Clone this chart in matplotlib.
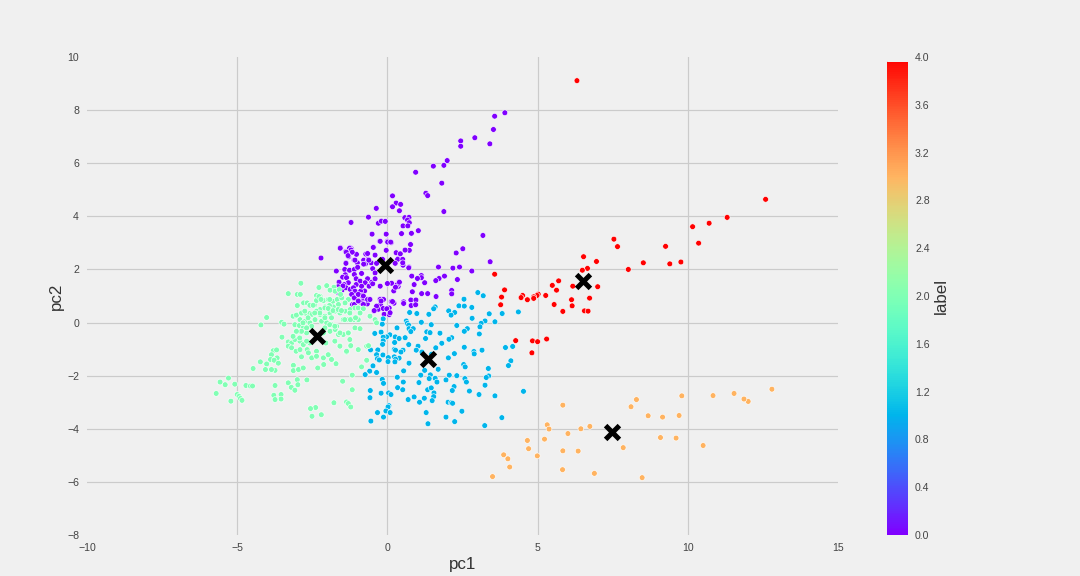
import matplotlib
matplotlib.use('Agg')
import matplotlib.pyplot as plt
import numpy as np
from matplotlib.patches import Rectangle

# pc1, pc2 per cluster
cluster0 = [(3.91,7.90),(3.57,7.77),(3.53,7.27),(3.41,6.73),(2.91,6.96),(2.44,6.84),(2.44,6.64),(1.99,6.10),(1.88,5.92),(1.53,5.89),
    (0.94,5.66),(1.81,5.25),(1.28,4.87),(1.34,4.78),(1.88,4.18),(0.17,4.77),(0.29,4.50),(0.44,4.45),(0.17,4.36),(0.40,4.21),
    (-0.37,4.30),(-0.63,3.97),(-1.21,3.77),(-0.30,3.74),(-0.20,3.82),(-0.07,3.81),(0.58,3.95),(0.72,3.96),(0.67,3.86),(0.73,3.76),
    (0.52,3.64),(0.68,3.64),(1.03,3.46),(0.80,3.36),(0.47,3.35),(-0.04,3.33),(-0.51,3.33),(3.18,3.28),(-0.26,3.06),(0,3.06),
    (0.13,3.01),(0.77,2.94),(-0.46,2.84),(-1.24,2.82),(-1.2,2.78),(-1.56,2.82),(-1.39,2.67),(-1.18,2.67),(-1.29,2.48),(-1.03,2.57),
    (-0.72,2.58),(-0.66,2.60),(-0.41,2.54),(-1.11,2.35),(-1.38,2.25),(-1.0,2.25),(-0.79,2.35),(-0.64,2.38),(-0.73,2.21),(-0.54,2.25),
    (-0.36,2.23),(0.58,2.72),(0.30,2.63),(0.41,2.57),(-0.04,2.72),(0.37,2.42),(0.24,2.26),(-0.16,2.38),(0.52,2.16),(0.72,2.09),
    (2.51,2.78),(2.29,2.62),(3.42,2.29),(1.70,2.09),(2.18,2.05),(2.40,2.09),(2.81,1.94),(1.90,1.75),(1.72,1.66),(1.61,1.58),
    (2.33,1.62),(1.13,1.77),(1.13,1.69),(0.81,1.75),(1.0,1.66),(1.24,1.50),(0.89,1.43),(0.39,1.53),(0.32,1.42),(0.14,1.48),
    (0,1.47),(0.36,1.36),(0.21,1.19),(0.83,1.16),(1.14,1.09),(1.34,1.09),(1.62,0.98),(2.14,1.21),(2.14,1.08),(0.54,0.78),
    (0.54,0.72),(0.78,0.85),(0.95,0.85),(0.13,0.79),(0.22,0.73),(0.79,0.64),(0.94,0.67),(-0.25,0.88),(-0.19,0.88),(-0.66,0.87),
    (-0.84,0.84),(-0.97,0.84),(-0.23,0.68),(-0.45,0.44),(-0.3,0.5),(-0.14,0.53),(0.06,0.55),(-0.11,0.31),(0.06,0.30),(-0.76,1.19),
    (-0.89,1.18),(-0.88,1.03),(-1.1,1.19),(-1.16,1.07),(-1.12,0.92),(-1.16,0.68),(-0.67,0.70),(-1.57,2.80),(-1.26,2.80),(-1.21,2.73),
    (-1.17,2.65),(-1.37,2.65),(-1.31,2.52),(-1.08,2.35),(-1.38,2.23),(-0.79,2.20),(-0.62,2.35),(-0.49,2.03),(-0.41,1.87),(-1.7,1.94),
    (-1.42,2.0),(-1.26,1.97),(-1.1,2.0),(-0.99,2.08),(-1.4,1.8),(-1.49,1.71),(-1.36,1.69),(-1.1,1.81),(-0.86,1.85),(-1.04,1.65),
    (-0.91,1.56),(-0.66,1.65),(-0.52,1.52),(-0.74,1.5),(-0.61,1.37),(-0.86,1.37),(-1.04,1.43),(-1.3,1.5),(-1.44,1.43),(-1.58,1.4),
    (-1.51,1.22),(-1.63,1.12),(-1.38,1.31),(-1.24,1.25),(-1.13,1.31),(-1.08,1.18),(-1.19,1.06),(-1.1,0.93),(-0.97,1.06),(-0.8,1.0),
    (-0.66,0.87),(-0.58,0.87),(-0.86,0.74),(-0.8,0.68),(-1.1,0.68),(-0.97,0.81),(-0.49,1.46),(-0.41,1.65),(-0.24,1.37),(0.33,1.43),
    (0.27,1.33),(0.4,1.52),(-0.24,0.87),(-0.13,0.87),(-0.21,0.81),(0.17,0.79),(-0.36,0.62),(-0.44,0.45),(-0.02,0.52),(0.09,0.37),
    (-0.47,2.83),(-0.24,3.06),(0.01,3.03),(0.11,3.03),(0.29,2.63),(0.43,2.59),(0.34,2.38),(0.26,2.23),(0.51,2.38),(0.51,2.25),
    (0.73,2.72),(0.59,2.73),(0.71,2.06),(-2.21,2.43),(-1.61,1.52),(-1.64,1.35),(-1.48,1.38)]

cluster1 = [(3.01,1.13),(3.19,1.01),(2.55,.88),(2.38,.63),(2.56,.62),(2.81,.57),(2.04,.44),(2.24,.38),(2.12,.28),(1.59,.59),
    (1.54,.52),(1.38,.31),(.74,.38),(.98,.34),(3.39,.33),(3.82,.34),(4.36,.40),(2.82,.16),(3.25,.06),(3.12,-.03),
    (3.08,-.16),(3.58,.03),(1.46,-.08),(1.13,.01),(2.31,-.11),(2.66,-.23),(2.56,-.33),(3.06,-.43),(.63,.06),(.66,-.03),
    (.71,-.10),(.72,-.23),(.86,-.23),(.78,-.34),(.32,-.20),(-.17,-.06),(-.42,-.41),(-.21,-.36),(.08,-.46),(-.03,-.54),
    (-.14,-.55),(.26,-.54),(.39,-.60),(.59,-.57),(-.14,-.69),(-.16,-.82),(.24,-.75),(1.31,-.35),(1.42,-.38),(1.75,-.40),
    (1.27,-.60),(2.14,-.57),(2.05,-.63),(1.81,-.78),(.71,-.83),(1.02,-.89),(1.61,-.95),(2.56,-.93),(3.15,-1.04),(2.88,-1.09),
    (2.89,-1.18),(3.93,-.94),(4.17,-.90),(-.56,-1.03),(-.32,-1.03),(-.36,-1.21),(-.15,-1.22),(-.33,-1.36),(-.27,-1.41),(.03,-1.32),
    (.02,-1.47),(.23,-1.01),(.27,-1.04),(.52,-1.04),(.45,-1.11),(.39,-1.34),(.23,-1.29),(.27,-1.38),(.25,-1.48),(.96,-1.04),
    (1.15,-1.11),(1.47,-1.19),(2.23,-1.17),(2.03,-1.33),(4.11,-1.44),(4.03,-1.62),(.72,-1.53),(2.54,-1.58),(2.59,-1.67),(1.69,-1.76),
    (1.24,-1.80),(.54,-1.82),(-.48,-1.63),(-.59,-1.83),(-.36,-1.88),(-.74,-1.96),(3.36,-1.73),(1.11,-1.98),(1.43,-1.97),(1.39,-2.11),
    (1.59,-2.10),(1.65,-2.24),(2.06,-1.98),(2.31,-2.0),(1.95,-2.16),(2.58,-2.11),(2.63,-2.24),(3.37,-2.01),(3.29,-2.07),(.33,-2.06),
    (-.17,-2.14),(-.13,-2.29),(.53,-2.24),(1.05,-2.26),(2.22,-2.41),(2.16,-2.56),(3.25,-2.36),(2.73,-2.58),(3.05,-2.71),(3.58,-2.76),
    (4.53,-2.59),(.34,-2.45),(.51,-2.53),(1.34,-2.53),(1.46,-2.46),(1.55,-2.65),(1.54,-2.79),(1.23,-2.85),(.89,-2.80),(.69,-2.90),
    (1.07,-3.0),(1.49,-2.94),(2.02,-3.0),(2.13,-3.02),(2.17,-3.04),(-.57,-2.56),(-.58,-2.83),(-.21,-2.66),(.04,-2.65),(.12,-2.71),
    (.05,-3.13),(.02,-3.18),(-.05,-3.33),(.09,-3.39),(-.33,-3.39),(-.13,-3.56),(1.29,-3.39),(2.48,-3.34),(1.95,-3.56),(3.81,-3.58),
    (-.55,-3.71),(1.35,-3.81),(2.24,-3.73),(3.24,-3.88),(-.14,.14)]

cluster2 = [(-2.88,1.48),(-3.30,1.09),(-3.0,1.06),(-2.9,1.06),(-2.28,1.32),(-2.02,1.39),(-1.78,1.33),(-1.91,1.22),(-1.74,1.18),(-1.6,1.24),
    (-2.36,1.02),(-2.24,.99),(-2.79,.74),(-2.67,.74),(-2.58,.65),(-2.42,.67),(-3.0,.64),(-2.3,.87),(-2.13,.83),(-1.97,.87),
    (-1.82,.8),(-1.67,.87),(-1.52,.93),(-1.3,.87),(-1.56,1.06),(-1.41,.74),(-1.63,.68),(-1.8,.59),(-1.93,.64),(-2.08,.59),
    (-2.24,.49),(-4.02,.19),(-4.21,-.09),(-3.52,.01),(-3.44,-.06),(-3.11,.23),(-2.99,.3),(-2.86,.34),(-2.72,.35),(-2.58,.34),
    (-2.51,.31),(-2.36,.43),(-2.24,.3),(-2.08,.24),(-1.91,.36),(-1.74,.43),(-1.58,.36),(-1.41,.43),(-1.24,.49),(-1.08,.55),
    (-.97,.55),(-.8,.52),(-.91,.36),(-.58,.24),(-.41,.11),(-.36,-.01),(-2.91,.11),(-2.74,.05),(-2.58,-.01),(-2.41,.11),
    (-2.19,.05),(-2.02,-.01),(-1.86,-.08),(-1.69,-.14),(-1.47,.11),(-1.3,.11),(-1.13,.11),(-.97,.11),(-3.08,-.08),(-2.93,-.11),
    (-2.8,-.2),(-3.04,-.35),(-2.89,-.35),(-2.69,-.39),(-2.52,-.14),(-2.13,-.39),(-1.91,-.33),(-1.74,-.26),(-1.63,-.45),(-1.47,-.45),
    (-1.3,-.39),(-1.08,-.2),(-.91,-.23),(-3.51,-.55),(-3.3,-.73),(-3.19,-.77),(-3.08,-.64),(-3.3,-.89),(-3.19,-.95),(-3.04,-1.08),
    (-2.91,-.7),(-2.8,-.83),(-2.91,-1.02),(-2.67,-1.02),(-2.86,-1.29),(-2.58,-.77),(-2.63,-1.14),(-2.52,-1.33),(-2.36,-1.08),(-2.36,-1.27),
    (-2.13,-1.33),(-1.97,-1.21),(-1.86,-1.39),(-1.71,-1.55),(-2.12,-1.58),(-2.32,-1.71),(-1.58,-.87),(-1.36,-1.11),(-1.22,-.89),(-.97,-1.02),
    (-.69,-.89),(-.63,-.87),(-.69,-1.42),(-.86,-1.67),(-3.8,-1.06),(-3.69,-1.03),(-3.86,-1.21),(-3.67,-1.33),(-3.89,-1.39),(-3.77,-1.42),
    (-3.63,-1.53),(-4.02,-1.56),(-3.74,-1.8),(-3.86,-1.77),(-4.06,-1.77),(-4.23,-1.48),(-4.47,-1.73),(-3.13,-1.61),(-3.13,-1.81),(-2.96,-1.77),
    (-2.8,-1.71),(-1.17,-1.98),(-1.49,-2.21),(-1.17,-2.53),(-2.68,-2.16),(-3.0,-2.15),(-2.98,-2.34),(-3.3,-2.27),(-3.2,-2.44),(-3.08,-2.55),
    (-3.74,-2.37),(-3.78,-2.74),(-3.54,-2.71),(-3.54,-2.88),(-3.74,-2.9),(-4.71,-2.37),(-4.56,-2.39),(-4.49,-2.39),(-5.08,-2.32),(-5.29,-2.09),
    (-5.4,-2.34),(-5.57,-2.24),(-5.0,-2.71),(-4.94,-2.78),(-4.89,-2.86),(-4.84,-2.93),(-5.21,-2.96),(-1.78,-3.02),(-1.36,-2.99),(-1.3,-3.05),
    (-1.22,-3.18),(-2.39,-3.2),(-2.56,-3.24),(-2.2,-3.47),(-2.51,-3.53),(-5.7,-2.67),(-3.14,.24),(-3.03,.28),(-2.86,.36),(-2.75,.43),
    (-2.58,.65),(-2.47,.65),(-2.36,.83),(-2.28,.98),(-2.21,.87),(-1.92,.87),(-2.08,.55),(-1.97,.53),(-1.81,.45),(-1.64,.49),
    (-1.53,.45),(-1.42,.11),(-1.23,.11),(-1.06,.18),(-1.25,.36),(-1.86,.18),(-2.08,.18),(-2.25,.36),(-2.42,.36),(-2.64,.18),
    (-2.81,-.01),(-2.86,-.33),(-2.69,-.2),(-3.03,-.33),(-3.14,-.52),(-2.92,-.58),(-2.69,-.7),(-2.05,-.77),(-1.75,-.7),(-1.58,-.39),
    (-1.3,-.39),(-1.25,-.64),(-1.58,-.89),(-1.36,-1.08),(-1.22,-.87),(-1.92,-.08),(-1.75,-.14),(-2.08,-.2)]

cluster3 = [(12.80,-2.51),(12.01,-2.97),(11.87,-2.88),(11.54,-2.67),(10.84,-2.75),(9.80,-2.76),(8.29,-2.90),(8.11,-3.17),(8.68,-3.51),(9.16,-3.56),
    (9.71,-3.50),(5.84,-3.11),(5.32,-3.85),(5.38,-4.01),(6.01,-4.18),(6.44,-4.0),(6.74,-3.91),(9.09,-4.33),(9.61,-4.35),(10.51,-4.63),
    (7.85,-4.71),(4.66,-4.44),(5.23,-4.39),(4.70,-4.75),(5.84,-4.83),(6.35,-4.84),(4.99,-5.02),(3.87,-4.98),(4.01,-5.13),(4.07,-5.44),
    (5.83,-5.54),(6.89,-5.68),(8.48,-5.84),(3.50,-5.80)]

cluster4 = [(12.59,4.64),(11.31,3.96),(10.71,3.74),(10.16,3.61),(10.36,2.99),(9.26,2.87),(9.77,2.28),(9.40,2.21),(8.52,2.25),(8.02,2.00),
    (7.54,3.14),(7.66,2.86),(6.96,2.30),(6.53,2.48),(6.66,2.04),(6.49,1.97),(5.70,1.57),(5.49,1.40),(5.63,1.22),(6.17,1.37),
    (7.00,1.35),(6.73,.92),(6.13,.86),(6.15,.63),(5.55,.68),(5.84,.42),(6.56,.44),(6.68,.43),(5.27,1.02),(5.02,1.07),
    (4.98,1.02),(4.87,.97),(4.87,.91),(4.66,.86),(4.50,1.02),(4.45,.94),(3.90,1.23),(3.80,.96),(3.77,.67),(3.57,1.82),
    (4.27,-.68),(4.83,-.69),(5.00,-.72),(5.30,-.62),(4.81,-1.14),(6.31,9.11)]

centers = [(-0.08,2.15),(1.35,-1.39),(-2.35,-0.49),(7.47,-4.14),(6.51,1.58)]
clusters = [cluster0, cluster1, cluster2, cluster3, cluster4]
cbar_ticks = [0.0,0.4,0.8,1.2,1.6,2.0,2.4,2.8,3.2,3.6,4.0]

plt.rcParams['font.family'] = 'Liberation Sans'
bg = '#f0f0f0'
fig = plt.figure(figsize=(15,8), dpi=72, facecolor=bg)
ax = fig.add_axes([87/1080, 41/576, 751/1080, 478/576], facecolor=bg)

pts = np.array([p for c in clusters for p in c])
labels = np.array([i for i, c in enumerate(clusters) for p in c])
sc = ax.scatter(pts[:,0], pts[:,1], c=labels, cmap='rainbow', vmin=0, vmax=4, s=33,
                edgecolors='white', linewidths=0.6, zorder=3)
cen = np.array(centers)
ax.scatter(cen[:,0], cen[:,1], marker='x', c='black', s=190, linewidths=5, zorder=4)

ax.set_xlim(-10,15)
ax.set_ylim(-8,10)
ax.set_xticks([-10,-5,0,5,10,15])
ax.set_yticks([-8,-6,-4,-2,0,2,4,6,8,10])
ax.grid(True, color='#cbcbcb', linewidth=1.2, zorder=0)
ax.set_axisbelow(True)
for axis in [ax.xaxis, ax.yaxis]:
    ticks = axis.get_major_ticks()
    ticks[0].gridline.set_visible(False)
    ticks[-1].gridline.set_visible(False)
for s in ax.spines.values():
    s.set_visible(False)
ax.tick_params(length=0, labelsize=10.5, labelcolor='#444444', pad=8)
ax.set_xlabel('pc1', fontsize=17, color='#333333', labelpad=4)
ax.set_ylabel('pc2', fontsize=17, color='#333333', labelpad=3)

cax = fig.add_axes([887/1080, 41/576, 21/1080, 478/576])
cb = fig.colorbar(sc, cax=cax, ticks=cbar_ticks)
cb.outline.set_visible(False)
cb.ax.tick_params(length=0, labelsize=10.5, labelcolor='#444444', pad=7)
cb.set_label('label', fontsize=17, color='#333333', labelpad=4)
cax.add_patch(Rectangle((0,3.97), 1, 0.04, color=bg, zorder=5, clip_on=False))

fig.savefig('out.png', dpi=72, facecolor=bg)
